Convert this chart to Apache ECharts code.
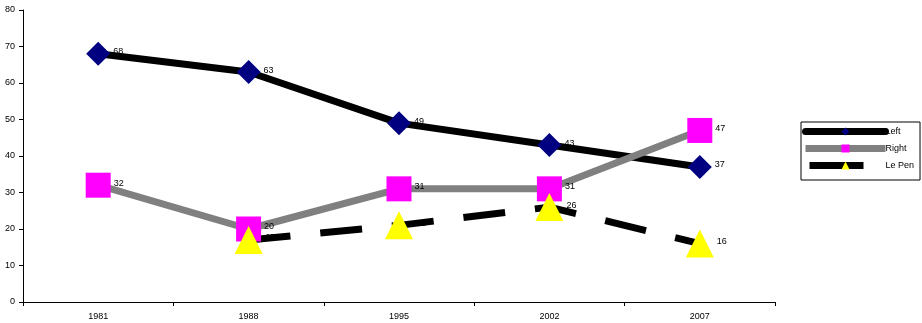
<!DOCTYPE html>
<html><head><meta charset="utf-8">
<script src="https://cdn.jsdelivr.net/npm/echarts@6/dist/echarts.min.js"></script>
<style>html,body{margin:0;padding:0;background:#fff}#c{width:922px;height:323px}</style>
</head><body><div id="c"></div>
<script>
const years = ['1981','1988','1995','2002','2007'];
const leftVals = [68, 63, 49, 43, 37];
const rightVals = [32, 20, 31, 31, 47];
const lePenVals = [null, 17, 21, 26, 16];
const yTicks = [0,10,20,30,40,50,60,70,80];

const chart = echarts.init(document.getElementById('c'), null, {renderer:'canvas'});
const font = 'Liberation Sans, Arial, sans-serif';
const lbl = {show:true, position:'right', distance:3, offset:[0,-2], fontSize:9, fontFamily:font, color:'#000'};
chart.setOption({
  animation:false,
  textStyle:{fontFamily:font},
  grid:{left:23, right:147, top:10, bottom:21},
  legend:{
    orient:'vertical', left:801, top:122, itemWidth:80, itemHeight:10, itemGap:8,
    borderColor:'#000', borderWidth:1, borderRadius:0, padding:[5,6,10,1],
    textStyle:{fontSize:9, fontFamily:font, color:'#000', padding:[4,0,0,-5]},
    data:[
      {name:'Left', itemStyle:{color:'#000080'}, lineStyle:{color:'#000', width:7, cap:'round'}},
      {name:'Right', itemStyle:{color:'#ff00ff'}, lineStyle:{color:'#808080', width:7}},
      {name:'Le Pen', itemStyle:{color:'#ffff00'}, lineStyle:{color:'#000', width:7, type:[54,26], dashOffset:76}}
    ]
  },
  xAxis:{
    type:'category', data:years, boundaryGap:true,
    axisLine:{lineStyle:{color:'#000', width:1}},
    axisTick:{show:true, length:4, lineStyle:{color:'#000'}},
    axisLabel:{fontSize:9, color:'#000', fontFamily:font, margin:10}
  },
  yAxis:{
    type:'value', min:0, max:80, interval:10,
    axisLine:{show:true, lineStyle:{color:'#000', width:1}},
    axisTick:{show:true, length:4, lineStyle:{color:'#000'}},
    axisLabel:{fontSize:9, color:'#000', fontFamily:font, margin:8},
    splitLine:{show:false}
  },
  series:[
    {name:'Left', type:'line', data:leftVals, symbol:'diamond', symbolSize:24,
     itemStyle:{color:'#000080'}, lineStyle:{color:'#000', width:7}, label:lbl},
    {name:'Right', type:'line', data:rightVals, symbol:'rect', symbolSize:25,
     itemStyle:{color:'#ff00ff'}, lineStyle:{color:'#808080', width:7}, label:lbl},
    {name:'Le Pen', type:'line', data:lePenVals, symbol:'triangle', symbolSize:28,
     itemStyle:{color:'#ffff00'}, lineStyle:{color:'#000', width:7, type:[42,30]}, label:lbl}
  ]
});
</script></body></html>
